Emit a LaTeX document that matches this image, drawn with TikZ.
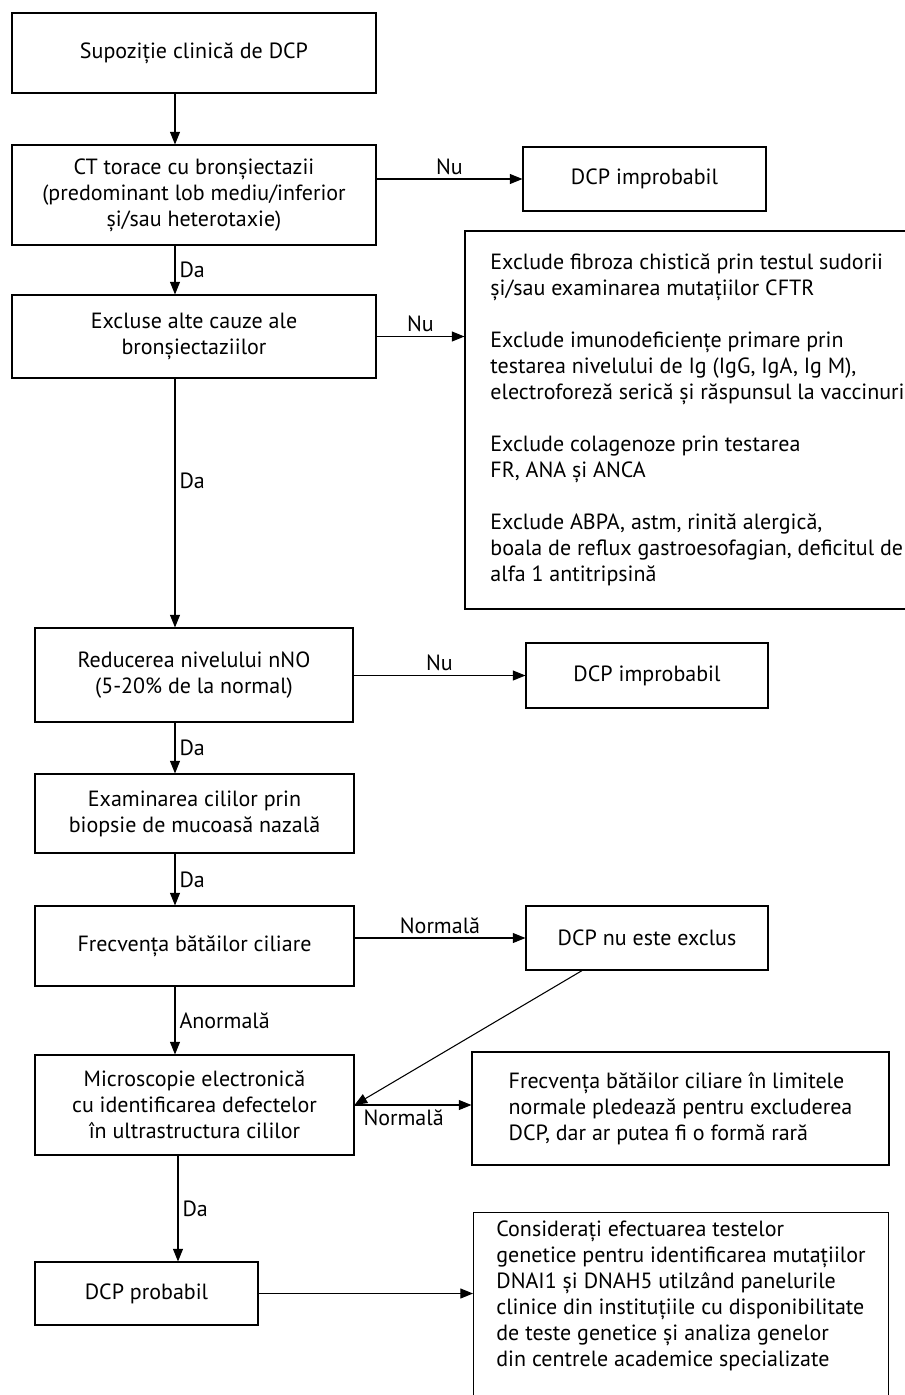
\documentclass[tikz,border=0pt]{standalone}
\usepackage{fontspec}
\setmainfont{PT Sans}
\usetikzlibrary{arrows.meta}

\begin{document}
\begin{tikzpicture}[x=0.75pt, y=-0.75pt, line width=0.8pt,
  box/.style={rectangle, draw=black, align=center, inner sep=0pt, font=\fontsize{16.5}{19.5}\selectfont},
  leftbox/.style={box, align=left},
  lbl/.style={font=\fontsize{16.5}{19}\selectfont, inner sep=3pt},
  >={Triangle[length=9.5pt, width=7.5pt]},
  ]

\useasboundingbox (0,0) rectangle (905,1395);
\clip (0,0) rectangle (905,1395);

\coordinate (ax) at (175,0);
\coordinate (bx) at (178,0);

\node[box, minimum width=273pt, minimum height=60pt] (sup) at (194,53) {Supoziție clinică de DCP};
\node[box, minimum width=273pt, minimum height=75pt] (ct) at (194,195) {CT torace cu bronșiectazii\\(predominant lob mediu/inferior\\și/sau heterotaxie)};
\node[box, minimum width=182.25pt, minimum height=48pt] (imp1) at (644.5,179) {DCP improbabil};
\node[box, minimum width=273pt, minimum height=62.25pt] (excl) at (194,336.5) {Excluse alte cauze ale\\bronșiectaziilor};
\node[leftbox, minimum width=348.75pt, minimum height=283.5pt] (alte) at (697.5,420) {Exclude fibroza chistică prin testul sudorii\\și/sau examinarea mutațiilor CFTR\\[19.5pt]Exclude imunodeficiențe primare prin\\testarea nivelului de Ig (IgG, IgA, Ig M),\\electroforeză serică și răspunsul la vaccinuri\\[19.5pt]Exclude colagenoze prin testarea\\FR, ANA și ANCA\\[19.5pt]Exclude ABPA, astm, rinită alergică,\\boala de reflux gastroesofagian, deficitul de\\alfa 1 antitripsină};

\node[box, minimum width=238.5pt, minimum height=70.5pt] (nno) at (194,675) {Reducerea nivelului nNO\\(5-20\% de la normal)};
\node[box, minimum width=181.5pt, minimum height=48.75pt] (imp2) at (647,675.5) {DCP improbabil};
\node[box, minimum width=239.25pt, minimum height=59.25pt] (biop) at (194.5,813.5) {Examinarea cililor prin\\biopsie de mucoasă nazală};
\node[box, minimum width=239.25pt, minimum height=60pt] (cbf) at (194.5,946) {Frecvența bătăilor ciliare};
\node[box, minimum width=181.5pt, minimum height=48pt] (nuex) at (647,938) {DCP nu este exclus};
\node[box, minimum width=239.25pt, minimum height=75pt] (micro) at (194.5,1105) {Microscopie electronică\\cu identificarea defectelor\\în ultrastructura cililor};
\node[leftbox, minimum width=312.75pt, minimum height=84.75pt] (lim) at (680.5,1108.5) {Frecvența bătăilor ciliare în limitele\\normale pledează pentru excluderea\\DCP, dar ar putea fi o formă rară};
\node[box, minimum width=167.25pt, minimum height=47.25pt] (prob) at (146.5,1293.5) {DCP probabil};
\node[leftbox, anchor=north west, minimum width=311.25pt, inner ysep=6pt, text depth=150pt] (gen) at (473,1212) {Considerați efectuarea testelor\\genetice pentru identificarea mutațiilor\\DNAI1 și DNAH5 utilzând panelurile\\clinice din instituțiile cu disponibilitate\\de teste genetice și analiza genelor\\din centrele academice specializate};

\coordinate (dstart) at (583,970);

\draw[->] (sup.south -| ax) -- (ct.north -| ax);
\draw[->] (ct.south -| ax) -- node[lbl, right] {Da} (excl.north -| ax);
\draw[->] (excl.south -| ax) -- node[lbl, right, pos=0.41] {Da} (nno.north -| ax);
\draw[->] (nno.south -| ax) -- node[lbl, right] {Da} (biop.north -| ax);
\draw[->] (biop.south -| ax) -- node[lbl, right] {Da} (cbf.north -| ax);
\draw[->] (cbf.south -| ax) -- node[lbl, right] {Anormală} (micro.north -| ax);
\draw[->] (micro.south -| bx) -- node[lbl, right] {Da} (prob.north -| bx);

\draw[->] (ct.east |- imp1) -- node[lbl, above] {Nu} (imp1.west);
\draw[->] (excl.east) -- node[lbl, above] {Nu} (excl.east -| alte.west);
\draw[->] (nno.east |- imp2) -- node[lbl, above] {Nu} (imp2.west);
\draw[->] (cbf.east |- nuex) -- node[lbl, above] {Normală} (nuex.west);
\draw[->] (dstart) -- (micro.east);
\draw[->] (micro.east) -- node[lbl, below, pos=0.42] {Normală} (micro.east -| lim.west);
\draw[->] (prob.east) -- (prob.east -| gen.west);

\end{tikzpicture}
\end{document}
